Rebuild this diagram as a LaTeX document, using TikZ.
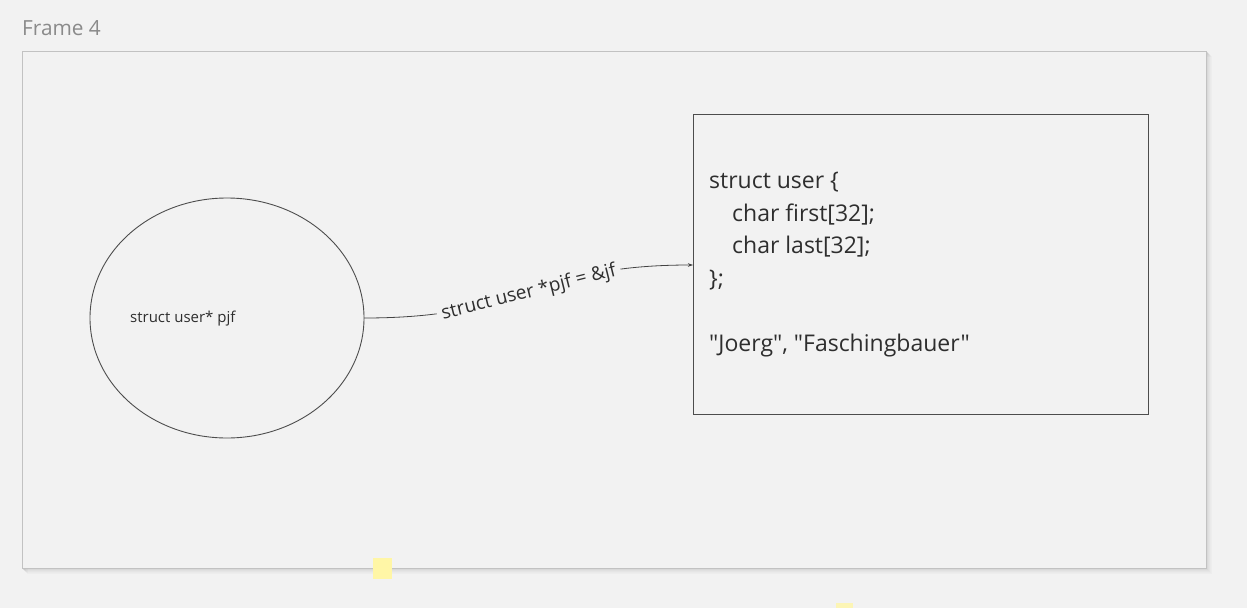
\documentclass[tikz,border=0pt]{standalone}
\usepackage{fontspec}
\setmainfont{Open Sans}[Ligatures=TeXOff]
\usetikzlibrary{arrows.meta}
\definecolor{bg}{HTML}{F2F2F2}
\definecolor{framegray}{HTML}{C2C2C2}
\definecolor{titlegray}{HTML}{8A8A8A}
\definecolor{ink}{HTML}{2E2E2E}
\definecolor{stickyyellow}{HTML}{FFF6A6}
\tikzset{
  shape line/.style={draw=ink!85, line width=0.9pt},
  code text/.style={font=\fontsize{23}{32.5}\selectfont, text=ink, align=left, anchor=north west, inner sep=0pt},
  edge label/.style={font=\fontsize{19}{22}\selectfont, text=ink, fill=bg, inner xsep=5pt, inner ysep=2pt, rotate=14},
  sticky/.style={fill=stickyyellow, draw=none},
}
\begin{document}
\begin{tikzpicture}[x=1pt, y=-1pt]
  \useasboundingbox (0,0) rectangle (1247,608);
  \fill[bg] (0,0) rectangle (1247,608);
  % frame shadow
  \foreach \i/\o in {1/0.10,2/0.07,3/0.05,4/0.03,5/0.02}{
    \draw[black, opacity=\o, line width=1pt] (22+\i,51+\i) rectangle (1206+\i,568+\i);
  }
  \fill[bg] (22,51) rectangle (1206,568);
  \draw[framegray, line width=1pt] (22,51) rectangle (1206,568);
  \node[anchor=base west, inner sep=0pt, text=titlegray, font=\fontsize{20.8}{24}\selectfont] (title) at (22,35) {Frame 4};
  % ellipse node
  \draw[shape line] (227,318) ellipse [x radius=137, y radius=120];
  \coordinate (ellE) at (364,318);
  \node[anchor=base west, inner sep=0pt, text=ink, font=\fontsize{15}{18}\selectfont] (elltext) at (130,322) {struct user* pjf};
  % rectangle node
  \node[shape line, draw, rectangle, minimum width=455pt, minimum height=300pt, anchor=north west, inner sep=0pt] (box) at (693,114) {};
  \node[code text] (code) at (709,172) {struct user \{\\
\hspace*{23pt}char first[32];\\
\hspace*{23pt}char last[32];\\
\};\\[32.5pt]
"Joerg", "Faschingbauer"};
  \coordinate (boxW) at (693,265);
  % connector
  \draw[ink!90, line width=0.8pt, -{Stealth[length=5pt, width=3.5pt]}] (ellE) .. controls (530,318) and (530,265) .. (boxW)
    node[edge label, pos=0.5, xshift=-1pt, yshift=-1pt] (lbl) {struct user *pjf = \&jf};
  % sticky notes
  \fill[sticky] (373,558) rectangle (392,579);
  \fill[sticky, opacity=0.8] (836,603) rectangle (853,608);
\end{tikzpicture}
\end{document}
